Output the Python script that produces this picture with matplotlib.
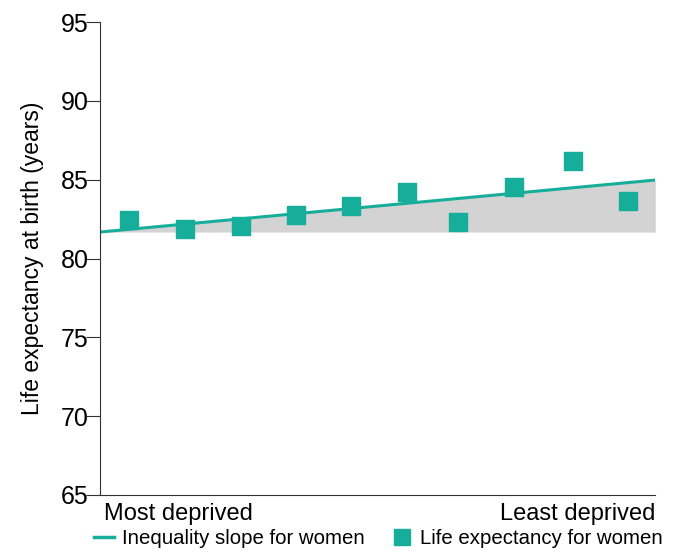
import matplotlib
matplotlib.use("Agg")
import matplotlib.pyplot as plt
from matplotlib.lines import Line2D

deciles = [0.52, 1.53, 2.54, 3.53, 4.52, 5.53, 6.45, 7.46, 8.52, 9.5]
life_exp = [82.44, 81.87, 82.06, 82.76, 83.33, 84.22, 82.32, 84.54, 86.19, 83.65]
slope_x = [0, 10]
slope_y = [81.68, 84.98]
yticks = [65, 70, 75, 80, 85, 90, 95]
color = "#16ad9b"

plt.rcParams['font.family'] = ['Liberation Sans', 'DejaVu Sans']
fig = plt.figure(figsize=(6.84, 5.53), dpi=100)
ax = fig.add_axes([0.146, 0.105, 0.812, 0.855])
ax.fill_between(slope_x, [slope_y[0]] * 2, slope_y, color="#d3d3d3", lw=0)
ax.plot(slope_x, slope_y, color=color, lw=2.2)
ax.scatter(deciles, life_exp, marker="s", s=170, color=color, zorder=3)
ax.set_xlim(0, 10)
ax.set_ylim(65, 95)
ax.set_yticks(yticks)
ax.tick_params(axis='y', labelsize=18, length=10, pad=-2, color="#333333")
ax.set_xticks([0.08, 10])
ax.set_xticklabels(["Most deprived", "Least deprived"], fontsize=17)
labs = ax.get_xticklabels()
labs[0].set_ha("left"); labs[1].set_ha("right")
ax.tick_params(axis='x', length=0, pad=6)
for s in ["top", "right"]:
    ax.spines[s].set_visible(False)
ax.spines["left"].set_color("#333333")
ax.spines["bottom"].set_color("#333333")
ax.set_ylabel("Life expectancy at birth (years)", fontsize=16.5, labelpad=12)
handles = [Line2D([], [], color=color, lw=2.5),
           Line2D([], [], marker="s", color=color, ls="", markersize=12)]
fig.legend(handles, ["Inequality slope for women", "Life expectancy for women"],
           loc="lower center", bbox_to_anchor=(0.553, -0.025), ncol=2, frameon=False,
           fontsize=14.7, handlelength=1.0, handletextpad=0.4, columnspacing=1.3)
fig.savefig("out.png", dpi=100)
